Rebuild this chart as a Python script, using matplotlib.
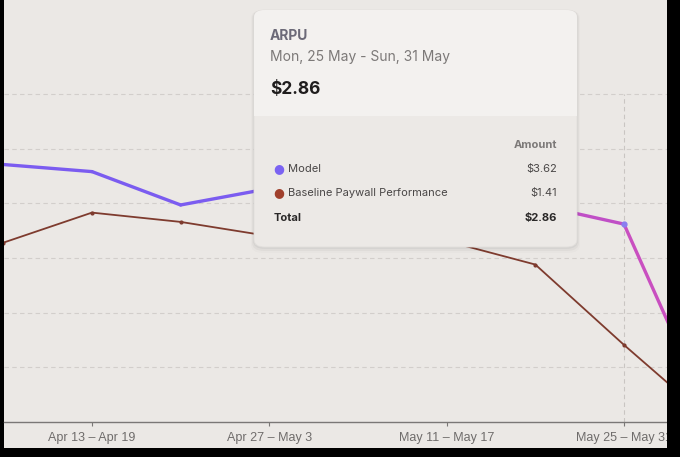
import matplotlib
matplotlib.use("Agg")
import matplotlib.pyplot as plt
from matplotlib.patches import FancyBboxPatch, Rectangle
from matplotlib.collections import LineCollection
import numpy as np

# weekly buckets, Apr 6 .. Jun 1
weeks = ["Apr 6 \u2013 Apr 12", "Apr 13 \u2013 Apr 19", "Apr 20 \u2013 Apr 26", "Apr 27 \u2013 May 3",
         "May 4 \u2013 May 10", "May 11 \u2013 May 17", "May 18 \u2013 May 24", "May 25 \u2013 May 31",
         "Jun 1 \u2013 Jun 7"]
model = [4.71, 4.58, 3.97, 4.27, 4.20, 4.10, 3.98, 3.62, 0.0]
baseline = [3.28, 3.83, 3.66, 3.40, 3.34, 3.31, 2.88, 1.41, 0.0]
model_colors = ["#7b5cf0", "#7b5cf0", "#7b5cf0", "#8458ea", "#9454dc", "#a852d2", "#c04fc6", "#c94fc0"]

tooltip_title = "ARPU"
tooltip_range = "Mon, 25 May - Sun, 31 May"
tooltip_total = "$2.86"
tooltip_rows = [("Model", "$3.62", "#7b63f2"), ("Baseline Paywall Performance", "$1.41", "#a0402c")]

bg = "#ebe8e5"
W, H = 680, 457

fig = plt.figure(figsize=(6.8, 4.57), dpi=100, facecolor="black")
# light panel (image has black edges left/right/bottom)
fig.patches.append(Rectangle((3.5 / W, 1 - 448 / H), (667 - 3.5) / W, 448 / H,
                             transform=fig.transFigure, facecolor=bg, edgecolor="none", zorder=-5))

ax = fig.add_axes([4 / W, 1 - 422 / H, (667 - 4) / W, 422 / H])
ax.set_facecolor(bg)
x = np.arange(len(weeks))

ytop = 422 / 54.67
ax.set_xlim(0.008, 7.485)
ax.set_ylim(0, ytop)

for s in ["top", "right", "left"]:
    ax.spines[s].set_visible(False)
ax.spines["bottom"].set_color("#7a7776")
ax.spines["bottom"].set_linewidth(1.0)

ax.set_yticks([1, 2, 3, 4, 5, 6])
ax.yaxis.grid(True, color="#d2cecb", linestyle=(0, (4, 3)), linewidth=0.8)
ax.tick_params(axis="y", left=False, labelleft=False)
ax.set_xticks(x[1::2])
ax.set_xticklabels(weeks[1::2], fontsize=9, color="#6f6c6b", family="Liberation Sans")
ax.tick_params(axis="x", length=3, color="#7a7776", pad=4)
ax.set_axisbelow(True)

# hover crosshair
ax.axvline(7, ymax=6 / ytop, color="#c9c5c2", linestyle=(0, (4, 3)), linewidth=0.8, zorder=1)

# baseline line
ax.plot(x, baseline, color="#7e3b2e", linewidth=1.3, marker="o", markersize=2, zorder=3)

# model line, coloured per segment
pts = np.column_stack([x, model]).reshape(-1, 1, 2)
segs = np.concatenate([pts[:-1], pts[1:]], axis=1)
lc = LineCollection(segs, colors=model_colors, linewidth=2.4, capstyle="round", joinstyle="round", zorder=4)
ax.add_collection(lc)
ax.plot([7], [model[7]], "o", color="#8a7ef0", markersize=3.5, zorder=5)

# black frame at right edge clips the last label, like the screenshot
fig.patches.append(Rectangle((667 / W, 0), 13 / W, 1, transform=fig.transFigure,
                             facecolor="black", edgecolor="none", zorder=20))
fig.patches.append(Rectangle((0, 0), 1, 9 / H, transform=fig.transFigure,
                             facecolor="black", edgecolor="none", zorder=20))

# tooltip
def fx(px):
    return px / W

def fy(py):
    return 1 - py / H

for i, a in enumerate([0.04, 0.03, 0.015]):
    d = 2 + i * 2
    fig.patches.append(FancyBboxPatch((fx(254 - d / 2), fy(247 + d)), fx(323 + d), (237 + d) / H,
                                      boxstyle="round,pad=0,rounding_size=0.018", transform=fig.transFigure,
                                      facecolor="black", edgecolor="none", alpha=a, zorder=5))
box = FancyBboxPatch((fx(254), fy(247)), fx(323), 237 / H,
                     boxstyle="round,pad=0,rounding_size=0.016", transform=fig.transFigure,
                     facecolor="#ece9e6", edgecolor="#e2dfdc", linewidth=0.6, zorder=6)
fig.patches.append(box)
top = FancyBboxPatch((fx(254), fy(116)), fx(323), 106 / H,
                     boxstyle="round,pad=0,rounding_size=0.016", transform=fig.transFigure,
                     facecolor="#f3f1ef", edgecolor="none", zorder=7)
fig.patches.append(top)
fig.patches.append(Rectangle((fx(254), fy(116)), fx(323), 12 / H, transform=fig.transFigure,
                             facecolor="#f3f1ef", edgecolor="none", zorder=7))

tf = "Inter"
fig.text(fx(270), fy(36), tooltip_title, fontsize=10, fontweight="bold", color="#6c6a78",
         va="center", ha="left", family=tf, zorder=8)
fig.text(fx(270), fy(57), tooltip_range, fontsize=10, color="#7c7978",
         va="center", ha="left", family=tf, zorder=8)
fig.text(fx(270), fy(89), tooltip_total, fontsize=12.5, fontweight="bold", color="#1f1d1d",
         va="center", ha="left", family=tf, zorder=8)
fig.text(fx(557), fy(145), "Amount", fontsize=8, fontweight="bold", color="#7c7978",
         va="center", ha="right", family=tf, zorder=8)
for i, (name, val, col) in enumerate(tooltip_rows):
    yy = 169 + i * 24
    fig.text(fx(279), fy(yy), "\u25cf", fontsize=9, color=col, va="center", ha="center",
             family="DejaVu Sans", zorder=8)
    fig.text(fx(288), fy(yy), name, fontsize=8, color="#4a4747", va="center", ha="left",
             family=tf, zorder=8)
    fig.text(fx(557), fy(yy), val, fontsize=8, color="#4a4747", va="center", ha="right",
             family=tf, zorder=8)
fig.text(fx(274), fy(218), "Total", fontsize=8, fontweight="bold", color="#2a2828",
         va="center", ha="left", family=tf, zorder=8)
fig.text(fx(557), fy(218), tooltip_total, fontsize=8, fontweight="bold", color="#2a2828",
         va="center", ha="right", family=tf, zorder=8)

fig.savefig("out.png", dpi=100, facecolor="black")
